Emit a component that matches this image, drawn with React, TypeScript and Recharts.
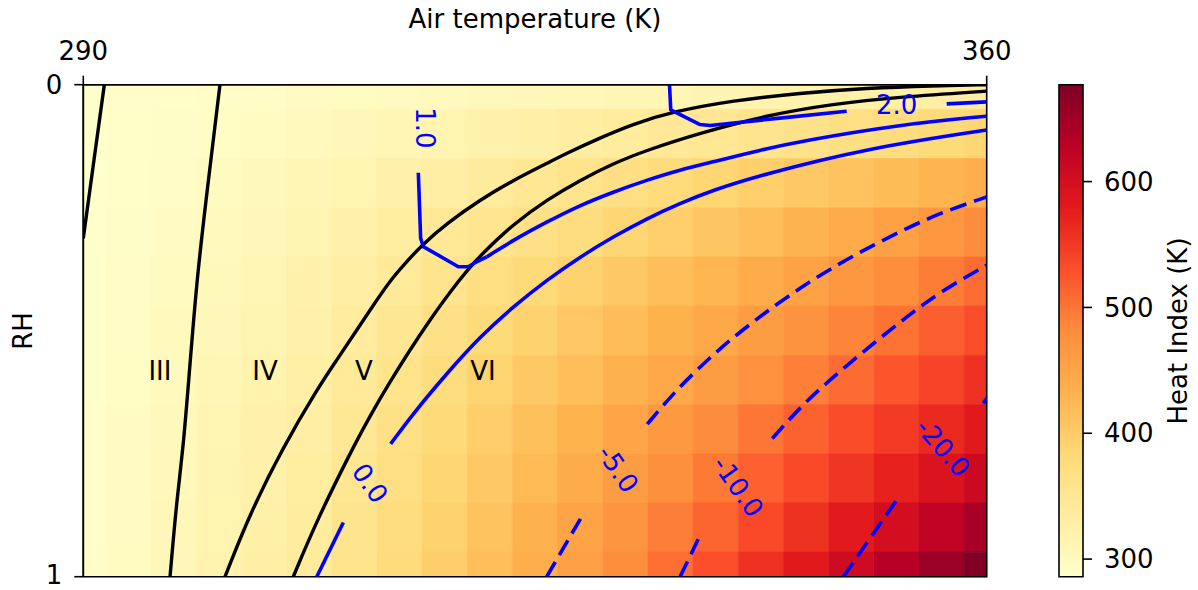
import React from 'react';
import { ComposedChart, XAxis, YAxis, Line, ReferenceArea, ReferenceDot } from 'recharts';

// cell centres of the heat index image
const temps = [290, 293.5, 297, 300.5, 304, 307.5, 311, 314.5, 318, 321.5, 325, 328.5, 332, 335.5, 339, 342.5, 346, 349.5, 353, 356.5, 360];
const rhLevels = [0, 0.1, 0.2, 0.3, 0.4, 0.5, 0.6, 0.7, 0.8, 0.9, 1];

// heat index (K), one row per RH level
const heatRh0 = [286, 288, 290, 292, 294, 296, 298, 300, 303, 305, 307, 309, 311, 313, 316, 319, 322, 325, 328, 330, 333];
const heatRh10 = [286, 289, 292, 295, 298, 302, 307, 312, 317, 322, 327, 333, 338, 344, 350, 356, 362, 368, 374, 380, 386];
const heatRh20 = [286, 290, 294, 299, 304, 310, 317, 324, 332, 340, 349, 358, 368, 378, 388, 396, 404, 412, 420, 429, 437];
const heatRh30 = [287, 292, 297, 303, 309, 316, 325, 335, 345, 355, 365, 375, 386, 396, 407, 418, 430, 442, 455, 468, 481];
const heatRh40 = [287, 293, 299, 305, 312, 320, 331, 343, 356, 370, 382, 393, 405, 416, 428, 441, 454, 467, 480, 494, 507];
const heatRh50 = [287, 294, 301, 308, 316, 324, 337, 351, 365, 380, 393, 406, 419, 433, 446, 460, 474, 488, 502, 517, 531];
const heatRh60 = [287, 295, 303, 311, 319, 328, 343, 358, 374, 390, 404, 418, 432, 446, 460, 476, 492, 508, 525, 541, 558];
const heatRh70 = [288, 296, 305, 314, 323, 332, 348, 364, 381, 398, 415, 431, 448, 465, 482, 499, 515, 532, 549, 565, 582];
const heatRh80 = [288, 297, 306, 316, 325, 335, 352, 369, 387, 405, 423, 441, 460, 478, 497, 516, 535, 554, 573, 591, 610];
const heatRh90 = [288, 297, 307, 317, 327, 338, 356, 375, 393, 412, 432, 452, 472, 493, 513, 535, 557, 579, 601, 623, 645];
const heatRh100 = [289, 298, 308, 318, 329, 340, 358, 378, 398, 418, 438, 458, 480, 505, 530, 558, 582, 608, 632, 655, 677];
const heatRows = [heatRh0, heatRh10, heatRh20, heatRh30, heatRh40, heatRh50, heatRh60, heatRh70, heatRh80, heatRh90, heatRh100];

// regime boundaries, [T, RH]
const boundaryA = [[290, 0.312], [290.81, 0.156], [291.63, 0]];
const boundaryB = [[296.72, 1], [297.24, 0.844], [297.75, 0.736], [298.17, 0.6], [298.79, 0.397], [299.51, 0.234], [300.59, 0]];
const boundaryC = [
  [300.98, 1], [302.92, 0.871], [305.5, 0.736], [308.09, 0.62], [309.63, 0.56], [311.18, 0.499], [312.73, 0.438],
  [313.76, 0.399], [314.77, 0.368], [316.22, 0.326], [318.16, 0.282], [320.74, 0.234], [323.32, 0.194], [325.91, 0.16],
  [327.48, 0.139], [330.04, 0.108], [332.59, 0.08], [335.62, 0.055], [340.34, 0.032], [345.53, 0.017], [350.73, 0.007],
  [355.84, 0.002], [360, 0],
];
const boundaryD = [
  [306.27, 1], [308.11, 0.885], [310.67, 0.749], [312.22, 0.673], [313.76, 0.604], [315.31, 0.539], [316.86, 0.478],
  [318.41, 0.421], [319.96, 0.371], [320.74, 0.348], [323.32, 0.283], [325.91, 0.234], [328.49, 0.194], [331.07, 0.16],
  [333.66, 0.133], [337.79, 0.098], [342.98, 0.062], [348.09, 0.039], [353.28, 0.025], [360, 0.013],
];

// blue contour pieces (solid >= 0, dashed < 0)
const contour2a = [[335.42, 0], [335.52, 0.051], [337.79, 0.081], [338.56, 0.083], [343.98, 0.068], [349.15, 0.054]];
const contour2b = [[356.9, 0.039], [360, 0.035]];
const contour1a = [[315.96, 0.179], [316.14, 0.312], [316.34, 0.329], [319.06, 0.37], [319.83, 0.37], [320.48, 0.36], [321.26, 0.35]];
const contour1b = [
  [321.26, 0.35], [323.32, 0.316], [325.91, 0.279], [328.49, 0.245], [331.07, 0.218], [333.66, 0.194], [336.24, 0.173],
  [338.82, 0.157], [342.43, 0.133], [345.53, 0.115], [353.28, 0.081], [360, 0.064],
];
const contour0a = [[308.09, 1], [310.15, 0.89]];
const contour0b = [
  [313.82, 0.73], [315.57, 0.668], [318.16, 0.587], [320.74, 0.512], [323.32, 0.451], [325.91, 0.397], [328.49, 0.35],
  [331.07, 0.309], [333.66, 0.272], [336.24, 0.241], [338.82, 0.214], [342.43, 0.184], [350.73, 0.129], [360, 0.092],
];
const contourM5a = [[325.91, 1], [328.82, 0.869]];
const contourM5b = [
  [333.7, 0.69], [335.72, 0.627], [338.3, 0.56], [340.89, 0.502], [343.47, 0.451], [346.05, 0.404], [348.63, 0.363],
  [351.21, 0.326], [353.8, 0.292], [356.38, 0.261], [360, 0.228],
];
const contourM10a = [[336.24, 1], [337.65, 0.924]];
const contourM10b = [[343.39, 0.719], [346.05, 0.641], [348.63, 0.583], [351.21, 0.526], [353.8, 0.472], [356.38, 0.421], [360, 0.367]];
const contourM20a = [[348.89, 1], [353.21, 0.837]];
const contourM20b = [[359.74, 0.648], [360, 0.637]];

const kinkedContours = [contour2a, contour1a];
const smoothContours = [contour2b, contour1b, contour0a, contour0b];
const dashedContours = [contourM5a, contourM5b, contourM10a, contourM10b, contourM20a, contourM20b];
const boundaries = [boundaryA, boundaryB, boundaryC, boundaryD];

// text on the plot
const regionNames = ['III', 'IV', 'V', 'VI'];
const regionT = [295.94, 304.08, 311.75, 320.97];
const regionRh = 0.582;
const contourLabelText = ['1.0', '2.0', '0.0', '-5.0', '-10.0', '-20.0'];
const contourLabelT = [316.48, 353.03, 312.22, 331.43, 340.73, 356.61];
const contourLabelRh = [0.088, 0.042, 0.81, 0.781, 0.817, 0.738];
const contourLabelAngle = [90, 0, 55, 56, 55, 49];

const xTicks = [290, 360];
const yTicks = [0, 1];
const colorbarTicks = [300, 400, 500, 600];

const allHeat = heatRows.flat();
const vMin = Math.min(...allHeat);
const vMax = Math.max(...allHeat);
const tMin = temps[0];
const tMax = temps[temps.length - 1];

const ylOrRd = [
  [255, 255, 204], [255, 237, 160], [254, 217, 118], [254, 178, 76], [253, 141, 60],
  [252, 78, 42], [227, 26, 28], [189, 0, 38], [128, 0, 38],
];
const hex = (c: number[]) => '#' + c.map((v) => Math.round(v).toString(16).padStart(2, '0')).join('');

function heatColor(v: number) {
  const t = Math.max(0, Math.min(1, (v - vMin) / (vMax - vMin)));
  const s = t * (ylOrRd.length - 1);
  const i = Math.min(Math.floor(s), ylOrRd.length - 2);
  const f = s - i;
  return hex(ylOrRd[i].map((a, k) => a + (ylOrRd[i + 1][k] - a) * f));
}

const halfT = (temps[1] - temps[0]) / 2;
const halfRh = (rhLevels[1] - rhLevels[0]) / 2;
const cells = heatRows.flatMap((row, r) =>
  row.map((v, c) => ({
    x1: Math.max(tMin, temps[c] - halfT),
    x2: Math.min(tMax, temps[c] + halfT),
    y1: Math.max(0, rhLevels[r] - halfRh),
    y2: Math.min(1, rhLevels[r] + halfRh),
    fill: heatColor(v),
  })),
);

const toPts = (pairs: number[][]) => pairs.map(([t, rh]) => ({ t, rh }));

const FONT = 'DejaVu Sans';
const tickStyle = { fill: '#000', fontSize: 26, fontFamily: FONT };
const black = { stroke: '#000', strokeWidth: 1.6 };
const BLUE = '#0000ff';

// axis titles: own prop names so the axis does not overwrite them
function Title({ text, px, py, rot = 0 }: { text: string; px: number; py: number; rot?: number; viewBox?: unknown }) {
  return (
    <text x={px} y={py} textAnchor="middle" fontSize={26} fill="#000" fontFamily={FONT}
      transform={rot ? `rotate(${rot} ${px} ${py})` : undefined}>
      {text}
    </text>
  );
}

const plotText = (text: string, angle: number, color: string) => (p: any) => (
  <text x={p.cx} y={p.cy} textAnchor="middle" dominantBaseline="central" fontSize={26} fill={color} fontFamily={FONT}
    transform={angle ? `rotate(${angle} ${p.cx} ${p.cy})` : undefined}>
    {text}
  </text>
);

export default function App() {
  return (
    <div style={{ position: 'absolute', left: 0, top: 0, width: 1198, height: 590, background: '#fff', fontFamily: FONT }}>
      <div style={{ position: 'absolute', left: 0, top: 0 }}>
        <ComposedChart width={1198} height={590} margin={{ top: 44.7, right: 211.3, bottom: 13.3, left: 43.3 }}>
          <XAxis type="number" dataKey="t" orientation="top" domain={[tMin, tMax]} ticks={xTicks} allowDataOverflow
            height={40} tickSize={9} tickMargin={16} tick={tickStyle} axisLine={black} tickLine={black}
            label={<Title text="Air temperature (K)" px={535} py={28} />} />
          <YAxis type="number" dataKey="rh" domain={[0, 1]} ticks={yTicks} reversed allowDataOverflow
            width={40} tickSize={9} tickMargin={12} tick={tickStyle} axisLine={black} tickLine={black}
            label={<Title text="RH" px={32} py={331} rot={-90} />} />
          {cells.map((c, i) => (
            <ReferenceArea key={'cell' + i} x1={c.x1} x2={c.x2} y1={c.y1} y2={c.y2}
              fill={c.fill} fillOpacity={1} stroke={c.fill} strokeWidth={0.6} />
          ))}
          {boundaries.map((b, i) => (
            <Line key={'bd' + i} data={toPts(b)} dataKey="rh" type="basis" stroke="#000" strokeWidth={3.4}
              dot={false} activeDot={false} isAnimationActive={false} />
          ))}
          {kinkedContours.map((c, i) => (
            <Line key={'ck' + i} data={toPts(c)} dataKey="rh" type="linear" stroke={BLUE} strokeWidth={3.6}
              strokeLinejoin="round" dot={false} activeDot={false} isAnimationActive={false} />
          ))}
          {smoothContours.map((c, i) => (
            <Line key={'cs' + i} data={toPts(c)} dataKey="rh" type="basis" stroke={BLUE} strokeWidth={3.6}
              dot={false} activeDot={false} isAnimationActive={false} />
          ))}
          {dashedContours.map((c, i) => (
            <Line key={'cd' + i} data={toPts(c)} dataKey="rh" type="basis" stroke={BLUE} strokeWidth={3.6}
              strokeDasharray="17 8" dot={false} activeDot={false} isAnimationActive={false} />
          ))}
          {regionNames.map((n, i) => (
            <ReferenceDot key={'rn' + i} x={regionT[i]} y={regionRh} r={0} shape={plotText(n, 0, '#000')} />
          ))}
          {contourLabelText.map((n, i) => (
            <ReferenceDot key={'cl' + i} x={contourLabelT[i]} y={contourLabelRh[i]} r={0}
              shape={plotText(n, contourLabelAngle[i], BLUE)} />
          ))}
          <ReferenceArea x1={tMin} x2={tMax} y1={0} y2={1} fill="none" fillOpacity={0} stroke="#000" strokeWidth={1.6} />
        </ComposedChart>
      </div>
      <div style={{ position: 'absolute', left: 0, top: 0 }}>
        <ComposedChart width={1198} height={590} data={[{ x: 0, v: vMin }, { x: 1, v: vMax }]}
          margin={{ top: 84.7, right: 15, bottom: 13.3, left: 1059 }}>
          <defs>
            <linearGradient id="cbGrad" x1="0" y1="1" x2="0" y2="0">
              {ylOrRd.map((c, i) => (
                <stop key={i} offset={`${(i / (ylOrRd.length - 1)) * 100}%`} stopColor={hex(c)} />
              ))}
            </linearGradient>
          </defs>
          <XAxis type="number" dataKey="x" domain={[0, 1]} hide />
          <YAxis type="number" dataKey="v" orientation="right" domain={[vMin, vMax]} ticks={colorbarTicks}
            width={100} tickSize={9} tickMargin={12} tick={tickStyle} axisLine={false} tickLine={black}
            label={<Title text="Heat Index (K)" px={1187} py={331} rot={-90} />} />
          <ReferenceArea x1={0} x2={1} y1={vMin} y2={vMax} fill="url(#cbGrad)" fillOpacity={1} stroke="#000" strokeWidth={1.6} />
        </ComposedChart>
      </div>
    </div>
  );
}
